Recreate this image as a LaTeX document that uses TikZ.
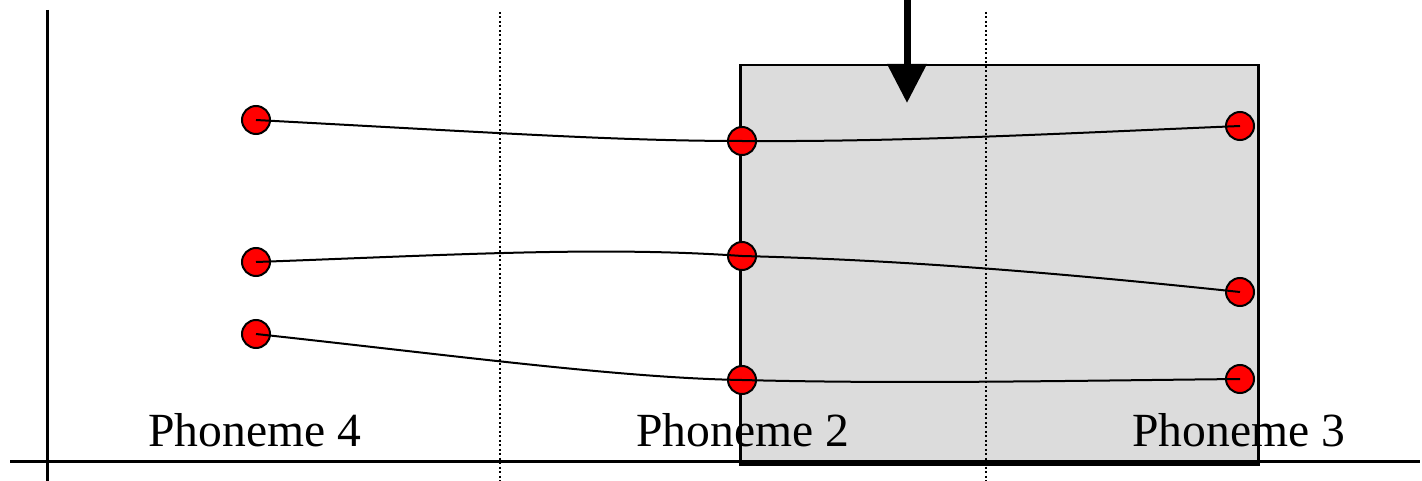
\documentclass[tikz,border=0pt]{standalone}
\usepackage{fontspec}
\setmainfont{Liberation Serif}
\usetikzlibrary{arrows.meta}
\definecolor{boxgray}{HTML}{DCDCDC}
\begin{document}
\begin{tikzpicture}[x=1pt,y=-1pt,
  axisline/.style={line width=3pt},
  divider/.style={line width=1.5pt,dash pattern=on 2pt off 2.5pt},
  dotnode/.style={circle,draw=black,fill=red,line width=2pt,minimum size=28pt,inner sep=0pt},
  curveline/.style={line width=2pt},
  label/.style={anchor=base west,inner sep=0pt,font=\fontsize{47.6}{57}\selectfont}]
\useasboundingbox (0,0) rectangle (1422,481);
% box
\node[draw=black,line width=2.5pt,fill=boxgray,minimum width=518pt,minimum height=399pt,inner sep=0pt,anchor=north west] (box) at (739,64) {};
% axes
\coordinate (xl) at (10,461); \coordinate (xr) at (1420,461);
\coordinate (yt) at (47,10); \coordinate (yb) at (47,481);
\draw[axisline] (xl) -- (xr);
\draw[axisline] (yt) -- (yb);
% dividers
\coordinate (d1t) at (500,12); \coordinate (d1b) at (500,481);
\coordinate (d2t) at (986,12); \coordinate (d2b) at (986,481);
\draw[divider] (d1t) -- (d1b);
\draw[divider] (d2t) -- (d2b);
% arrow
\coordinate (at) at (907,0); \coordinate (ab) at (907,103);
\draw[line width=7pt,-{Triangle[width=38pt,length=39pt]}] (at) -- (ab);
% dots
\node[dotnode] (a1) at (256,120) {};
\node[dotnode] (a2) at (256,262) {};
\node[dotnode] (a3) at (256,334) {};
\node[dotnode] (b1) at (742,141) {};
\node[dotnode] (b2) at (742,256) {};
\node[dotnode] (b3) at (742,380) {};
\node[dotnode] (c1) at (1240,126) {};
\node[dotnode] (c2) at (1240,292) {};
\node[dotnode] (c3) at (1240,379) {};
% curves
\draw[curveline] (a1.center) .. controls (500,133) and (620,141) .. (b1.center)
  .. controls (900,142) and (1050,134) .. (c1.center);
\draw[curveline] (a2.center) .. controls (450,255) and (600,246) .. (b2.center)
  .. controls (900,260) and (1050,272) .. (c2.center);
\draw[curveline] (a3.center) .. controls (450,355) and (620,378) .. (b3.center)
  .. controls (900,384) and (1050,381) .. (c3.center);
% labels
\node[label] (p4) at (148,446) {Phoneme 4};
\node[label] (p2) at (636,446) {Phoneme 2};
\node[label] (p3) at (1132,446) {Phoneme 3};
\end{tikzpicture}
\end{document}
